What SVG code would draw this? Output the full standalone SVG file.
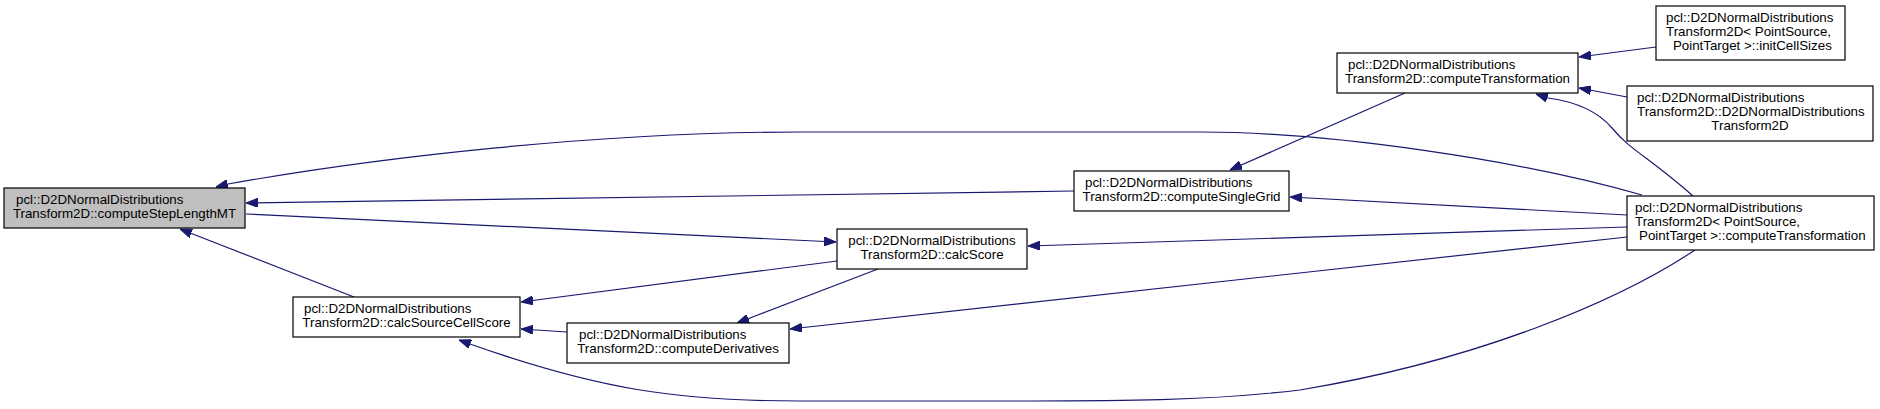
<svg xmlns="http://www.w3.org/2000/svg" width="1880" height="409" viewBox="0 0 1880 409">
<defs>
<marker id="ah" viewBox="0 0 12 9" refX="12" refY="4.5" markerWidth="12" markerHeight="9" markerUnits="userSpaceOnUse" orient="auto">
<path d="M0,0 L12,4.5 L0,9 z" fill="#191970" stroke="#191970" stroke-width="1"/>
</marker>
</defs>
<style>
.n rect{fill:#ffffff;stroke:#000000;stroke-width:1.2}
.n.main rect{fill:#bfbfbf}
text{font-family:"Liberation Sans",Arial,Helvetica,sans-serif;font-size:13.33px;fill:#000000}
.c{text-anchor:middle}
.e path{fill:none;stroke:#191970;stroke-width:1.2;marker-end:url(#ah)}
</style>
<rect width="1880" height="409" fill="#ffffff"/>
<g id="edges" class="e">
<path d="M1642,195 C1520,160 1330,132 1200,132 L800,132 C600,132 380,157 228,184 L216,187"/>
<path d="M1074,191 L246,203"/>
<path d="M246,214 L836,242"/>
<path d="M354,297 L180,229"/>
<path d="M837,261 L521,302"/>
<path d="M567,332 L521,329"/>
<path d="M1695,250 C1620,300 1480,360 1300,390 C1200,402 1100,401 1000,401 L800,401 C680,401 600,390 470,344 L459,340"/>
<path d="M878,269 L737,323"/>
<path d="M1627,237 L790,329"/>
<path d="M1627,227 L1028,246"/>
<path d="M1627,215 L1290,197"/>
<path d="M1405,93 L1230,170"/>
<path d="M1693,196 C1650,158 1630,150 1612,128 C1595,108 1570,101 1548,98 L1536,94"/>
<path d="M1656,47 L1579,57"/>
<path d="M1627,97 L1579,88"/>
</g>
<g id="computeStepLengthMT" class="n main">
<rect x="4" y="188" width="241" height="40"/>
<text x="16" y="204">pcl::D2DNormalDistributions</text>
<text class="c" x="124.5" y="218">Transform2D::computeStepLengthMT</text>
</g>
<g id="calcSourceCellScore" class="n">
<rect x="293" y="297" width="227" height="40"/>
<text x="304" y="313">pcl::D2DNormalDistributions</text>
<text class="c" x="406.5" y="327">Transform2D::calcSourceCellScore</text>
</g>
<g id="computeDerivatives" class="n">
<rect x="567" y="323" width="222" height="40"/>
<text x="579" y="339">pcl::D2DNormalDistributions</text>
<text class="c" x="678" y="353">Transform2D::computeDerivatives</text>
</g>
<g id="calcScore" class="n">
<rect x="837" y="229" width="190" height="40"/>
<text class="c" x="932" y="245">pcl::D2DNormalDistributions</text>
<text class="c" x="932" y="259">Transform2D::calcScore</text>
</g>
<g id="computeSingleGrid" class="n">
<rect x="1074" y="171" width="215" height="40"/>
<text x="1085" y="187">pcl::D2DNormalDistributions</text>
<text class="c" x="1181.5" y="201">Transform2D::computeSingleGrid</text>
</g>
<g id="computeTransformation" class="n">
<rect x="1337" y="53" width="241" height="40"/>
<text x="1348" y="69">pcl::D2DNormalDistributions</text>
<text class="c" x="1457.5" y="83">Transform2D::computeTransformation</text>
</g>
<g id="initCellSizes" class="n">
<rect x="1656" y="6" width="189" height="54"/>
<text x="1666" y="22">pcl::D2DNormalDistributions</text>
<text x="1666" y="36">Transform2D&lt; PointSource,</text>
<text class="c" x="1750.5" y="50" xml:space="preserve"> PointTarget &gt;::initCellSizes</text>
</g>
<g id="constructor" class="n">
<rect x="1627" y="86" width="246" height="55"/>
<text x="1637" y="102">pcl::D2DNormalDistributions</text>
<text x="1637" y="116">Transform2D::D2DNormalDistributions</text>
<text class="c" x="1750" y="130">Transform2D</text>
</g>
<g id="computeTransformationPS" class="n">
<rect x="1627" y="196" width="247" height="54"/>
<text x="1635" y="212">pcl::D2DNormalDistributions</text>
<text x="1635" y="226">Transform2D&lt; PointSource,</text>
<text class="c" x="1750.5" y="240" xml:space="preserve"> PointTarget &gt;::computeTransformation</text>
</g>
</svg>
